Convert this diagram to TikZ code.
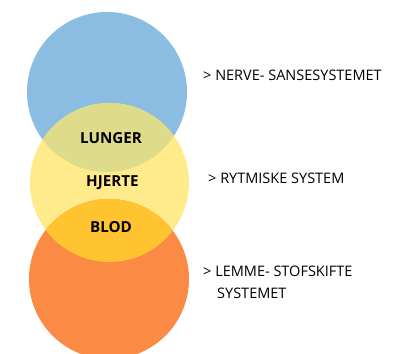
\documentclass[tikz,border=0pt]{standalone}
\usepackage{fontspec}
\setmainfont{Open Sans}
\definecolor{cblue}{HTML}{8BBCE2}
\definecolor{cyel}{HTML}{FFEB8C}
\definecolor{cora}{HTML}{FB8A44}
\definecolor{cbo}{HTML}{DEDC8A}
\definecolor{cyo}{HTML}{FFC42F}
\tikzset{
  lab/.style={font=\fontsize{15.2}{17}\selectfont\bfseries, inner sep=0pt},
  side/.style={font=\fontsize{14.5}{22}\selectfont, inner sep=0pt, anchor=west, align=left}
}
\begin{document}
\begin{tikzpicture}[x=1pt,y=-1pt]
\useasboundingbox (0,0) rectangle (398,353);
\fill[cblue] (107,92) circle (80);
\fill[cyel] (109.5,182.5) circle (79.5);
\fill[cora] (109,279) circle (80);
\begin{scope}
  \clip (107,92) circle (80);
  \fill[cbo] (109.5,182.5) circle (79.5);
\end{scope}
\begin{scope}
  \clip (109.5,182.5) circle (79.5);
  \fill[cyo] (109,279) circle (80);
\end{scope}
\node[lab] (lunger) at (111,138) {LUNGER};
\node[lab] (hjerte) at (112.5,183) {HJERTE};
\node[lab] (blod) at (111,227.5) {BLOD};
\node[side] (nerve) at (203,75) {> NERVE- SANSESYSTEMET};
\node[side] (rytm) at (208,178) {> RYTMISKE SYSTEM};
\node[side, anchor=north west] (lemme) at (203,266) {> LEMME- STOFSKIFTE\\\hspace*{14pt}SYSTEMET};
\end{tikzpicture}
\end{document}
